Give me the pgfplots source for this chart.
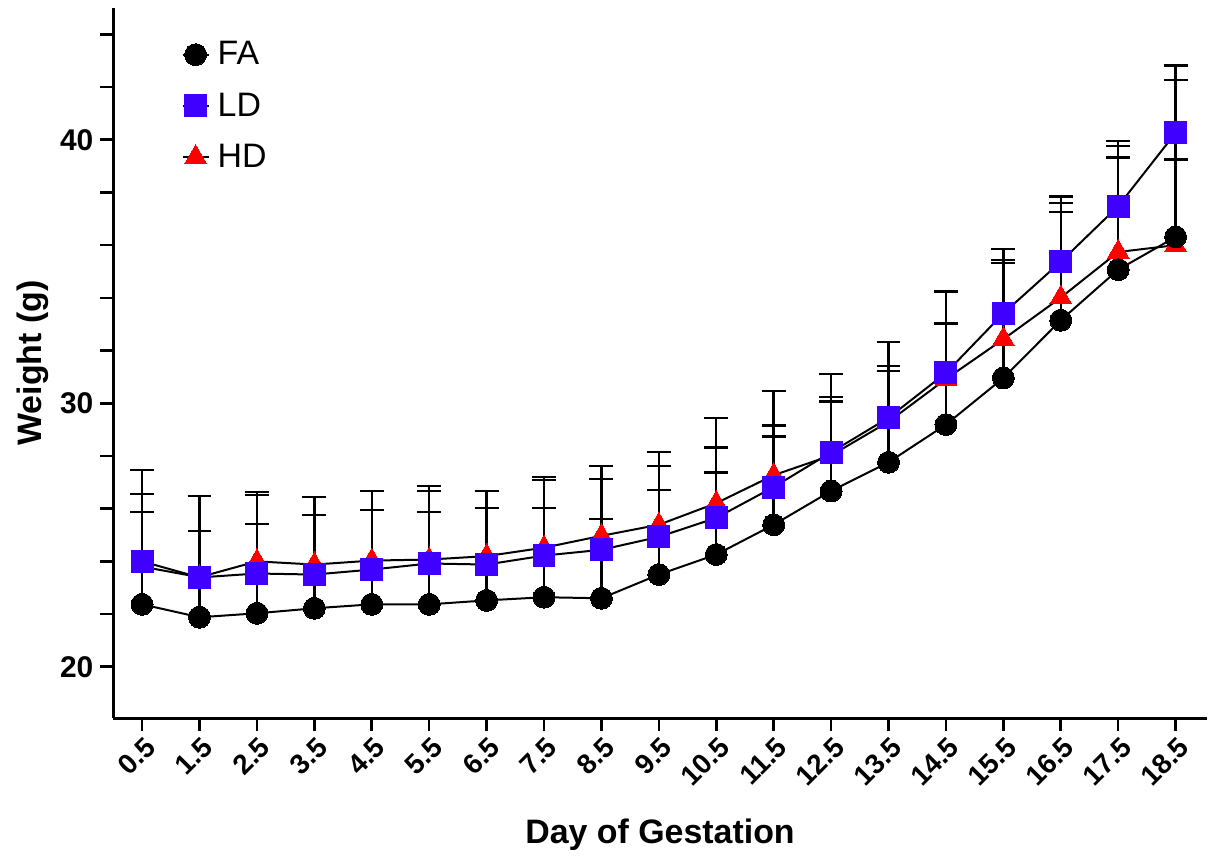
\documentclass[border=0pt]{standalone}
\usepackage{pgfplots}
\pgfplotsset{compat=1.18}
\usepackage{fontspec}
\setmainfont{Liberation Sans}
\definecolor{ldblue}{RGB}{64,0,255}
\definecolor{hdred}{RGB}{255,0,0}
\begin{document}
\begin{tikzpicture}
\begin{axis}[
  scale only axis,
  width=548pt, height=356pt,
  xmin=0, xmax=19.04, ymin=18.05, ymax=45,
  axis x line=bottom, axis y line=left,
  axis line style={-, line width=1.4pt},
  tick align=outside,
  major tick length=6.5pt, minor tick length=6.5pt,
  every tick/.style={black, line width=1.3pt},
  xtick={0.5,1.5,...,18.5},
  xticklabels={0.5,1.5,2.5,3.5,4.5,5.5,6.5,7.5,8.5,9.5,10.5,11.5,12.5,13.5,14.5,15.5,16.5,17.5,18.5},
  xticklabel style={rotate=45, anchor=east, font=\fontsize{14}{16}\selectfont\bfseries, inner sep=2pt, yshift=-7pt, xshift=1pt},
  ytick={20,30,40},
  yticklabels={20,30,40},
  minor ytick={22,24,26,28,32,34,36,38,42,44},
  yticklabel style={font=\fontsize{15}{17}\selectfont\bfseries, xshift=0pt},
  xlabel={Day of Gestation},
  ylabel={Weight (g)},
  xlabel style={font=\fontsize{17}{19}\selectfont\bfseries, yshift=-9pt},
  ylabel style={font=\fontsize{17}{19}\selectfont\bfseries, yshift=-1pt},
  legend style={draw=none, fill=none, at={(0.062,0.959)}, anchor=north west,
    font=\fontsize{17}{19}\selectfont, row sep=8.5pt, inner sep=0pt,
    nodes={inner xsep=4pt}},
  legend cell align=left,
  reverse legend,
  legend image code/.code={\draw[#1, mark repeat=2, mark phase=2] plot coordinates {(0cm,0cm) (0.23cm,0cm) (0.46cm,0cm)};},
  error bars/y dir=plus, error bars/y explicit,
  error bars/error mark options={rotate=90, black, mark size=6pt, line width=1.2pt},
  error bars/error bar style={black, line width=1.2pt},
  clip=false,
]
\addplot[black, line width=1pt, mark=triangle*, mark size=6.3pt, mark options={fill=hdred, draw=hdred, line width=0pt}]
coordinates {
(0.5,23.8) +- (0,2.75)
(1.5,23.4) +- (0,3.08)
(2.5,24.0) +- (0,2.63)
(3.5,23.88) +- (0,2.56)
(4.5,24.03) +- (0,2.64)
(5.5,24.07) +- (0,2.78)
(6.5,24.2) +- (0,2.47)
(7.5,24.52) +- (0,2.68)
(8.5,24.97) +- (0,2.64)
(9.5,25.39) +- (0,2.75)
(10.5,26.21) +- (0,3.24)
(11.5,27.27) +- (0,3.20)
(12.5,28.02) +- (0,3.09)
(13.5,29.3) +- (0,3.02)
(14.5,30.92) +- (0,2.11)
(15.5,32.43) +- (0,3.01)
(16.5,34.01) +- (0,3.58)
(17.5,35.74) +- (0,4.03)
(18.5,36.0) +- (0,3.25)
};
\addlegendentry{HD}
\addplot[black, line width=1pt, mark=square*, mark size=5.5pt, mark options={fill=ldblue, draw=ldblue, line width=0pt}]
coordinates {
(0.5,24.0) +- (0,3.46)
(1.5,23.39) +- (0,3.09)
(2.5,23.54) +- (0,2.98)
(3.5,23.5) +- (0,2.94)
(4.5,23.69) +- (0,2.98)
(5.5,23.92) +- (0,2.75)
(6.5,23.88) +- (0,2.79)
(7.5,24.22) +- (0,2.86)
(8.5,24.44) +- (0,2.68)
(9.5,24.93) +- (0,2.68)
(10.5,25.65) +- (0,2.67)
(11.5,26.82) +- (0,2.33)
(12.5,28.14) +- (0,2.10)
(13.5,29.45) +- (0,1.96)
(14.5,31.15) +- (0,3.09)
(15.5,33.41) +- (0,2.45)
(16.5,35.37) +- (0,2.48)
(17.5,37.48) +- (0,2.48)
(18.5,40.26) +- (0,2.56)
};
\addlegendentry{LD}
\addplot[black, line width=1pt, mark=*, mark size=5.5pt, mark options={fill=black, draw=black, line width=0pt}]
coordinates {
(0.5,22.37) +- (0,3.51)
(1.5,21.88) +- (0,3.28)
(2.5,22.03) +- (0,3.39)
(3.5,22.22) +- (0,3.54)
(4.5,22.37) +- (0,3.58)
(5.5,22.37) +- (0,3.51)
(6.5,22.52) +- (0,3.51)
(7.5,22.64) +- (0,3.39)
(8.5,22.60) +- (0,3.01)
(9.5,23.50) +- (0,3.20)
(10.5,24.26) +- (0,3.12)
(11.5,25.39) +- (0,3.35)
(12.5,26.67) +- (0,3.39)
(13.5,27.76) +- (0,3.46)
(14.5,29.19) +- (0,3.84)
(15.5,30.96) +- (0,4.37)
(16.5,33.15) +- (0,4.10)
(17.5,35.07) +- (0,4.25)
(18.5,36.31) +- (0,5.95)
};
\addlegendentry{FA}
\end{axis}
\path ([yshift=4pt]current axis.north west);
\path ([yshift=-4pt]current axis.outer south);
\path ([xshift=-5pt]current axis.outer west);
\end{tikzpicture}
\end{document}
